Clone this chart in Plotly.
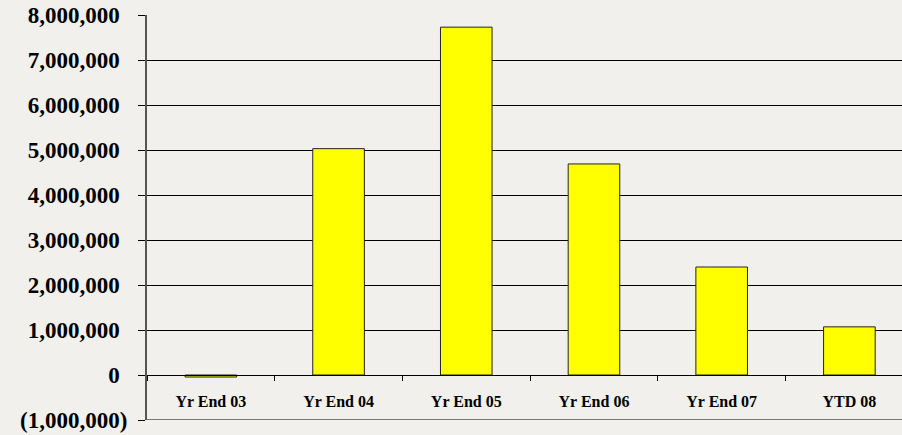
import plotly.graph_objects as go

categories = ["Yr End 03", "Yr End 04", "Yr End 05", "Yr End 06", "Yr End 07", "YTD 08"]
values = [-45000, 5030000, 7730000, 4690000, 2400000, 1070000]
tick_vals = [-1000000, 0, 1000000, 2000000, 3000000, 4000000, 5000000, 6000000, 7000000, 8000000]
PAD = "<span style='color:rgba(0,0,0,0)'>)</span>"
tick_text = [f"({-v:,})" if v < 0 else f"{v:,}{PAD}" for v in tick_vals]

BG = "#f1f0ec"
FONT = "Liberation Serif"

fig = go.Figure()
fig.add_trace(go.Bar(
    x=categories, y=values, width=0.404,
    marker=dict(color="#ffff00", line=dict(color="#222222", width=1)),
))

fig.update_layout(
    width=902, height=435,
    margin=dict(l=147, r=0, t=15, b=15),
    paper_bgcolor=BG, plot_bgcolor=BG,
    showlegend=False,
    font=dict(family=FONT, color="black"),
    shapes=[dict(type="line", xref="paper", x0=0, x1=1, yref="y",
                 y0=tick_vals[0], y1=tick_vals[0], line=dict(color="black", width=1),
                 layer="above")],
)
fig.update_yaxes(
    range=[-1000000, 8000000],
    tickmode="array", tickvals=tick_vals, ticktext=tick_text,
    tickfont=dict(family=FONT, size=23, color="black", weight="bold"),
    showgrid=True, gridcolor="black", gridwidth=1,
    zeroline=False,
    showline=True, linecolor="#555555", linewidth=2,
    ticks="outside", ticklen=7, tickcolor="black",
    ticklabelstandoff=6,
)
fig.update_xaxes(
    range=[-0.5, 5.412],
    anchor="free", position=1 / 9,
    showline=True, linecolor="black", linewidth=1,
    ticks="outside", ticklen=5, tickcolor="black", tickson="boundaries",
    tickfont=dict(family=FONT, size=16, color="black", weight="bold"),
    showgrid=False, zeroline=False,
    ticklabelstandoff=12,
)

fig.write_html("out.html")
